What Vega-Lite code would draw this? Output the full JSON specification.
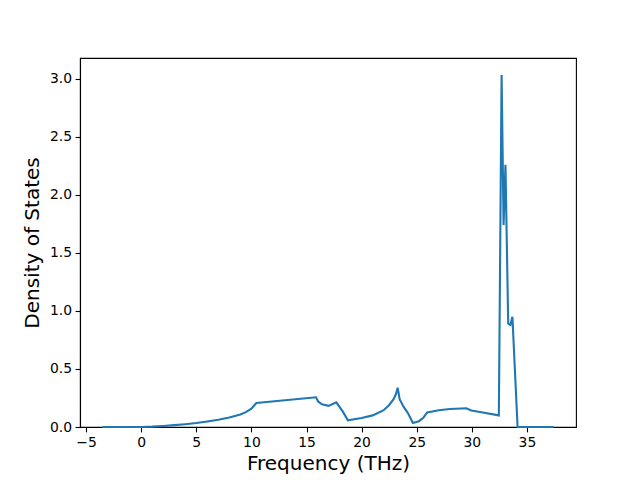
{
  "$schema": "https://vega.github.io/schema/vega-lite/v6.json",
  "width": 496,
  "height": 369,
  "autosize": {"type": "none"},
  "padding": {"left": 80, "top": 58, "right": 64, "bottom": 53},
  "background": "white",
  "config": {
    "view": {"stroke": "black", "strokeWidth": 1.1},
    "axis": {
      "grid": false,
      "domainColor": "black",
      "domainWidth": 1.1,
      "tickColor": "black",
      "tickWidth": 1.1,
      "tickSize": 4.9,
      "labelFont": "DejaVu Sans",
      "labelFontSize": 13.9,
      "labelColor": "black",
      "labelPadding": 3.5,
      "titleFont": "DejaVu Sans",
      "titleFontSize": 20,
      "titleFontWeight": "normal",
      "titleColor": "black"
    }
  },
  "data": {
    "values": [
      {"f": -3.53, "d": 0},
      {"f": -2, "d": 0},
      {"f": 0, "d": 0},
      {"f": 1, "d": 0.003},
      {"f": 2, "d": 0.009},
      {"f": 3, "d": 0.016},
      {"f": 4, "d": 0.024},
      {"f": 5, "d": 0.034},
      {"f": 6, "d": 0.047},
      {"f": 7, "d": 0.062},
      {"f": 8, "d": 0.082},
      {"f": 9, "d": 0.108},
      {"f": 9.5, "d": 0.128},
      {"f": 10, "d": 0.158},
      {"f": 10.25, "d": 0.185},
      {"f": 10.45, "d": 0.207},
      {"f": 15.87, "d": 0.256},
      {"f": 16.05, "d": 0.22},
      {"f": 16.4, "d": 0.196},
      {"f": 17.0, "d": 0.182},
      {"f": 17.7, "d": 0.213},
      {"f": 18.3, "d": 0.132},
      {"f": 18.75, "d": 0.058},
      {"f": 20, "d": 0.078},
      {"f": 21, "d": 0.1},
      {"f": 22, "d": 0.145},
      {"f": 22.5, "d": 0.19},
      {"f": 22.9, "d": 0.24},
      {"f": 23.1, "d": 0.28},
      {"f": 23.27, "d": 0.338},
      {"f": 23.45, "d": 0.24},
      {"f": 23.8, "d": 0.175},
      {"f": 24.2, "d": 0.12},
      {"f": 24.65, "d": 0.035},
      {"f": 25.2, "d": 0.05},
      {"f": 25.6, "d": 0.08},
      {"f": 25.95, "d": 0.125},
      {"f": 27, "d": 0.145},
      {"f": 28, "d": 0.155},
      {"f": 29.5, "d": 0.161},
      {"f": 29.95, "d": 0.142},
      {"f": 31, "d": 0.125},
      {"f": 32.45, "d": 0.1},
      {"f": 32.7, "d": 3.034},
      {"f": 32.88, "d": 1.74},
      {"f": 33.05, "d": 2.26},
      {"f": 33.3, "d": 0.89},
      {"f": 33.5, "d": 0.88},
      {"f": 33.68, "d": 0.95},
      {"f": 34.15, "d": 0},
      {"f": 37.45, "d": 0}
    ]
  },
  "mark": {"type": "line", "color": "#1f77b4", "strokeWidth": 2.1, "clip": false},
  "encoding": {
    "x": {
      "field": "f",
      "type": "quantitative",
      "title": "Frequency (THz)",
      "scale": {"domain": [-5.55, 39.45], "nice": false, "zero": false},
      "axis": {"values": [-5, 0, 5, 10, 15, 20, 25, 30, 35], "format": "d", "titlePadding": 4}
    },
    "y": {
      "field": "d",
      "type": "quantitative",
      "title": "Density of States",
      "scale": {"domain": [0, 3.18], "nice": false},
      "axis": {"values": [0, 0.5, 1, 1.5, 2, 2.5, 3], "format": ".1f", "titlePadding": 7}
    }
  }
}
